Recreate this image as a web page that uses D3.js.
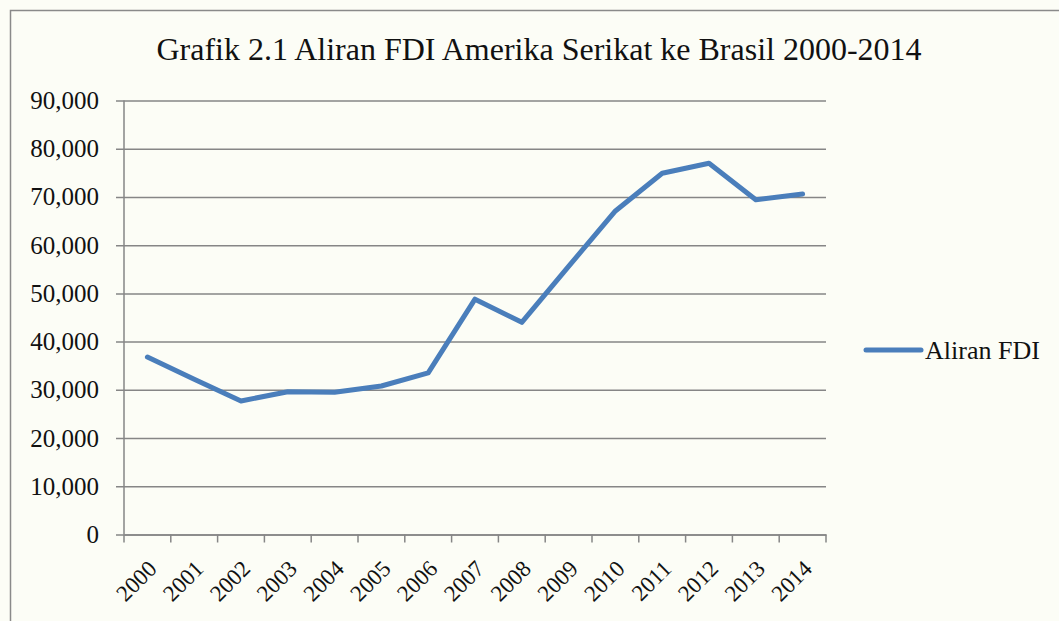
<!DOCTYPE html>
<html>
<head>
<meta charset="utf-8">
<script src="https://cdn.jsdelivr.net/npm/d3@7"></script>
<style>
  body { margin: 0; background: #fcfdf6; }
  svg { display: block; }
</style>
</head>
<body>
<div id="chart-container"></div>
<script>
// Data
const years = ["2000", "2001", "2002", "2003", "2004", "2005", "2006", "2007",
    "2008", "2009", "2010", "2011", "2012", "2013", "2014"];
const fdiValues = [36800, 32200, 27700, 29600, 29500, 30800, 33500, 48800,
    44000, 55600, 67100, 74900, 77000, 69400, 70600];
const yTicks = [0, 10000, 20000, 30000, 40000, 50000, 60000, 70000, 80000, 90000];
const seriesName = "Aliran FDI";
const chartTitle = "Grafik 2.1 Aliran FDI Amerika Serikat ke Brasil 2000-2014";

const width = 1059;
const height = 621;

// plot area
const margin = { top: 100.5, right: 233, bottom: 86.5, left: 124 };
const plotW = width - margin.left - margin.right;
const plotH = height - margin.top - margin.bottom;

const fontFamily = "'Liberation Serif', 'Times New Roman', serif";
const gridColor = "#868686";
const lineColor = "#4a7ebb";

const svg = d3.select("#chart-container")
    .append("svg")
    .attr("width", width)
    .attr("height", height);

// outer chart frame
svg.append("rect")
    .attr("x", 10.5)
    .attr("y", 10.5)
    .attr("width", width + 20)
    .attr("height", height + 20)
    .attr("fill", "#fcfdf6")
    .attr("stroke", "#8a8a8a")
    .attr("stroke-width", 1.5);

// title
svg.append("text")
    .attr("x", 539)
    .attr("y", 60)
    .attr("text-anchor", "middle")
    .attr("font-family", fontFamily)
    .attr("font-size", 32)
    .attr("fill", "#111")
    .text(chartTitle);

const x = d3.scaleBand()
    .domain(years)
    .range([0, plotW]);

const y = d3.scaleLinear()
    .domain([0, 90000])
    .range([plotH, 0]);

const g = svg.append("g")
    .attr("transform", `translate(${margin.left},${margin.top})`);

// horizontal gridlines + y axis labels
const yAxis = g.append("g")
    .call(d3.axisLeft(y)
        .tickValues(yTicks)
        .tickSize(-plotW)
        .tickSizeOuter(0)
        .tickPadding(25)
        .tickFormat(d => d3.format(",")(d)));

yAxis.select(".domain").remove();
yAxis.selectAll(".tick line")
    .attr("x1", -8)
    .attr("stroke", gridColor)
    .attr("stroke-width", 1.5);
yAxis.selectAll(".tick text")
    .attr("font-family", fontFamily)
    .attr("font-size", 25)
    .attr("fill", "#111");

// vertical axis line
g.append("line")
    .attr("x1", 0).attr("x2", 0)
    .attr("y1", 0).attr("y2", plotH)
    .attr("stroke", gridColor)
    .attr("stroke-width", 1.5);

// x axis with tick marks at category boundaries
const xAxis = g.append("g")
    .attr("transform", `translate(0,${plotH})`)
    .call(d3.axisBottom(x).tickSize(0).tickPadding(0));

xAxis.select(".domain")
    .attr("stroke", gridColor)
    .attr("stroke-width", 1.5);

g.append("g")
    .selectAll("line")
    .data(years.concat(["end"]))
    .join("line")
    .attr("x1", (d, i) => i * x.bandwidth())
    .attr("x2", (d, i) => i * x.bandwidth())
    .attr("y1", plotH)
    .attr("y2", plotH + 8)
    .attr("stroke", gridColor)
    .attr("stroke-width", 1.5);

xAxis.selectAll(".tick text")
    .attr("font-family", fontFamily)
    .attr("font-size", 23)
    .attr("fill", "#111")
    .attr("text-anchor", "end")
    .attr("dy", "0.35em")
    .attr("transform", "translate(5,30) rotate(-45)");

// the line
const line = d3.line()
    .x((d, i) => x(years[i]) + x.bandwidth() / 2)
    .y(d => y(d));

g.append("path")
    .datum(fdiValues)
    .attr("fill", "none")
    .attr("stroke", lineColor)
    .attr("stroke-width", 5)
    .attr("stroke-linejoin", "round")
    .attr("stroke-linecap", "round")
    .attr("d", line);

// legend
const legend = svg.append("g")
    .attr("transform", "translate(866,350)");

legend.append("line")
    .attr("x1", 0).attr("x2", 55)
    .attr("y1", 0).attr("y2", 0)
    .attr("stroke", lineColor)
    .attr("stroke-width", 5)
    .attr("stroke-linecap", "round");

legend.append("text")
    .attr("x", 59)
    .attr("y", 0)
    .attr("dy", "0.35em")
    .attr("font-family", fontFamily)
    .attr("font-size", 26)
    .attr("fill", "#111")
    .text(seriesName);
</script>
</body>
</html>
